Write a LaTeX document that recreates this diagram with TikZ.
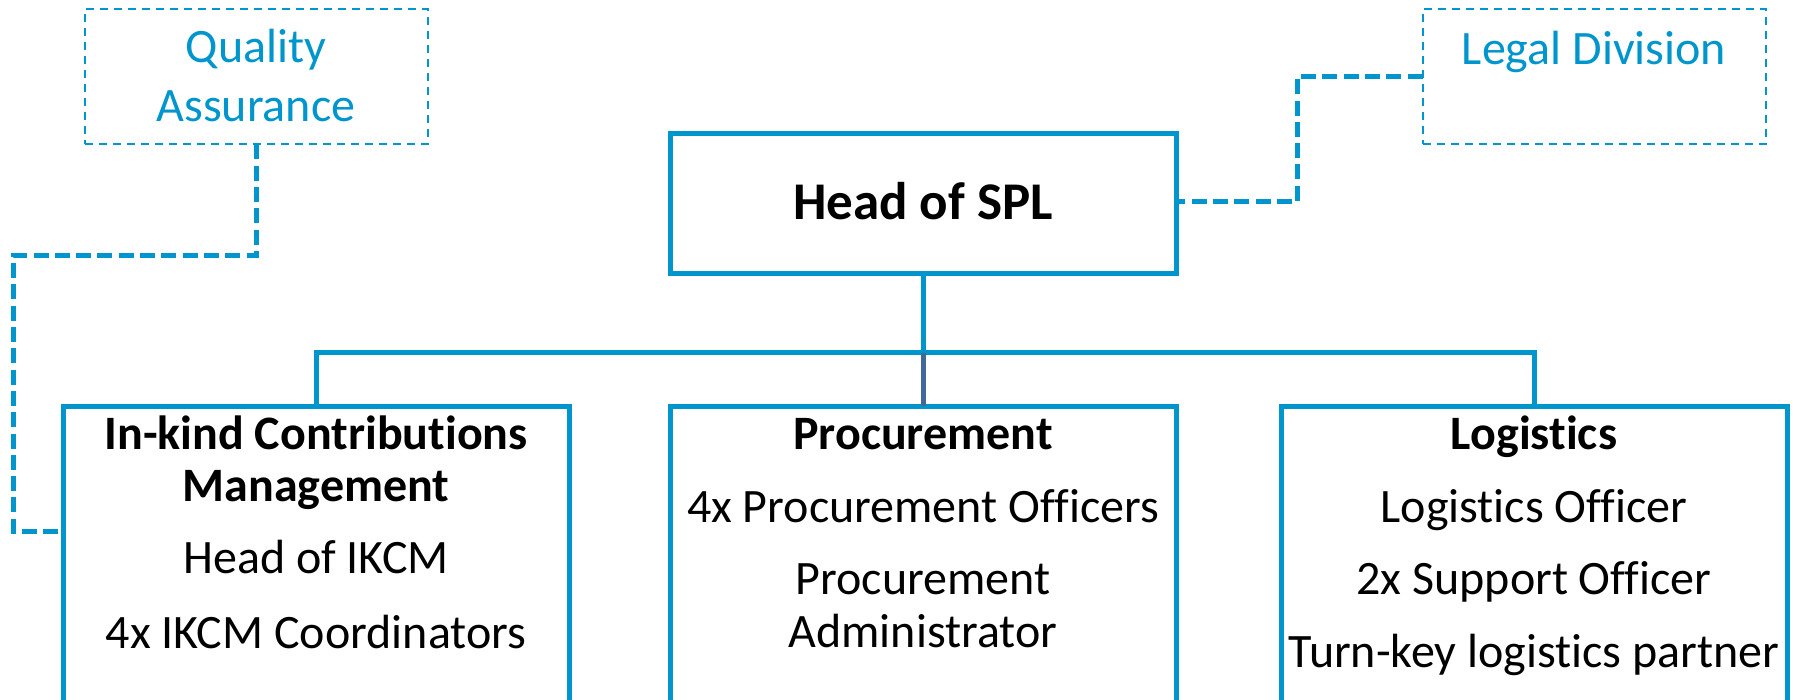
\documentclass[tikz,border=0pt]{standalone}
\usepackage{fontspec}
\setmainfont{Carlito}[Ligatures=NoCommon]
\definecolor{orgblue}{RGB}{0,150,205}
\definecolor{orgslate}{RGB}{64,104,152}
\begin{document}
\begin{tikzpicture}[x=1pt,y=-1pt,
  unitbox/.style={draw=orgblue, line width=5pt, rectangle, inner sep=0pt, outer sep=0pt,
                  anchor=north west, minimum width=506pt},
  advbox/.style={draw=orgblue, line width=2pt, dash pattern=on 8pt off 6pt,
                 rectangle, inner sep=0pt, outer sep=0pt, anchor=north west,
                 minimum width=343pt, minimum height=135pt},
  solidlink/.style={draw=orgblue, line width=5pt},
  dashlink/.style={draw=orgblue, line width=5pt, dash pattern=on 15pt off 6.3pt},
  bodytext/.style={anchor=base, inner sep=0pt, font=\fontsize{48}{52}\selectfont},
  headtext/.style={anchor=base, inner sep=0pt, font=\fontsize{48}{52}\selectfont\bfseries},
  advtext/.style={anchor=base, inner sep=0pt, text=orgblue, font=\fontsize{48}{52}\selectfont}
]
\useasboundingbox (0,0) rectangle (1793,700);
\clip (0,0) rectangle (1793,700);

% boxes
\node[unitbox, minimum height=140pt] (head) at (670,134) {};
\node[unitbox, minimum height=380pt] (ikcm) at (63,406) {};
\node[unitbox, minimum height=380pt] (proc) at (670,406) {};
\node[unitbox, minimum height=380pt] (logi) at (1281,406) {};
\node[advbox] (qa) at (85,9.5) {};
\node[advbox] (legal) at (1422.5,9.5) {};

% reporting lines
\coordinate (bus) at (923,353);
\draw[solidlink] (head.south) -- (bus);
\draw[solidlink, line cap=rect] (ikcm.north) |- (bus) -| (logi.north);
\draw[draw=orgslate, line width=5pt] (bus) -- (proc.north);

% advisory lines
\coordinate (qaturn) at (13,256);
\coordinate (legalturn) at (1297,77);
\draw[dashlink] (qa.south) |- (qaturn) |- (ikcm.west |- 0,531);
\draw[dashlink] (legal.west) -- (legalturn) |- (head.east |- 0,202);

% texts
\node[headtext] (headlbl) at (923,220) {\fontsize{53}{58}\selectfont Head of SPL};

\node[advtext] (qa1) at (256,63) {Quality};
\node[advtext] (qa2) at (256,122) {Assurance};
\node[advtext] (legal1) at (1594,65) {Legal Division};

\node[headtext] (ikcm1) at (316,449) {In-kind Contributions};
\node[headtext] (ikcm2) at (316,501) {Management};
\node[bodytext] (ikcm3) at (316,573) {Head of IKCM};
\node[bodytext] (ikcm4) at (316,648) {4x IKCM Coordinators};

\node[headtext] (proc1) at (923,449) {Procurement};
\node[bodytext] (proc2) at (923,522) {4x Procurement Officers};
\node[bodytext] (proc3) at (923,594) {Procurement};
\node[bodytext] (proc4) at (923,647) {Administrator};

\node[headtext] (logi1) at (1534,449) {Logistics};
\node[bodytext] (logi2) at (1534,522) {Logistics Officer};
\node[bodytext] (logi3) at (1534,594) {2x Support Officer};
\node[bodytext] (logi4) at (1534,667) {Turn-key logistics partner};
\end{tikzpicture}
\end{document}
